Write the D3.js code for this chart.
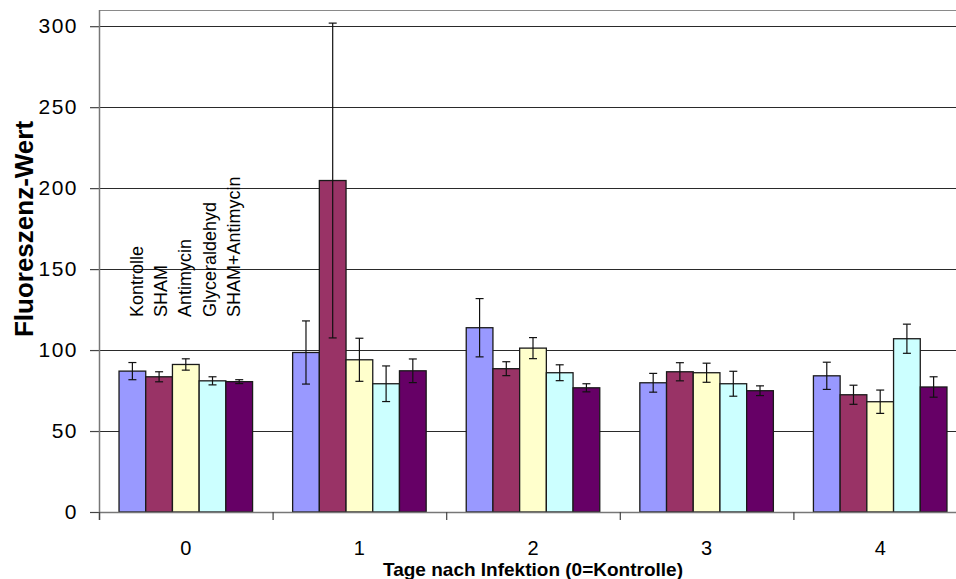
<!DOCTYPE html>
<html>
<head>
<meta charset="utf-8">
<script src="https://cdn.jsdelivr.net/npm/d3@7"></script>
<style>
  html, body { margin: 0; padding: 0; background: #fff; }
  svg { display: block; }
  text { font-family: "Liberation Sans", Arial, sans-serif; }
</style>
</head>
<body>
<svg id="chart" width="956" height="579"></svg>
<script>
const categories = ["0", "1", "2", "3", "4"];
const seriesNames = ["Kontrolle", "SHAM", "Antimycin", "Glyceraldehyd", "SHAM+Antimycin"];
const seriesColors = ["#9999FF", "#993366", "#FFFFCC", "#CCFFFF", "#660066"];
const kontrolle   = [87, 98.5, 113.8, 79.8, 84.1];
const sham        = [83.5, 204.7, 88.5, 86.6, 72.4];
const antimycin   = [91.1, 94, 101.2, 86, 68.1];
const glyceral    = [81, 79.2, 86, 79.2, 107];
const shamAnti    = [80.5, 87.2, 76.7, 74.9, 77.2];
const errKontrolle = [5.3, 19.5, 18, 5.8, 8.4];
const errSham      = [3.1, 97.2, 4.3, 5.6, 5.9];
const errAntimycin = [3.5, 13.3, 6.5, 5.9, 7.2];
const errGlyceral  = [2.5, 11, 4.9, 7.7, 9];
const errShamAnti  = [1.2, 7.3, 2.5, 3, 6.3];
const yTicks = [0, 50, 100, 150, 200, 250, 300];
const yTitle = "Fluoreszenz-Wert";
const xTitle = "Tage nach Infektion (0=Kontrolle)";

const seriesValues = [kontrolle, sham, antimycin, glyceral, shamAnti];
const seriesErrors = [errKontrolle, errSham, errAntimycin, errGlyceral, errShamAnti];

const svg = d3.select("#chart");
const mLeft = 99, mRight = 967, mTop = 10, mBottom = 512;

const x0 = d3.scaleBand().domain(categories).range([mLeft, mRight]).paddingInner(0).paddingOuter(0);
const x1 = d3.scaleBand().domain(d3.range(seriesNames.length))
  .range([0, x0.bandwidth()]).paddingInner(0).paddingOuter(0.75);
const y = d3.scaleLinear().domain([0, 310]).range([mBottom, mTop]);

// top border of plot area
svg.append("line").attr("x1", mLeft).attr("x2", mRight).attr("y1", mTop + 0.5).attr("y2", mTop + 0.5)
  .attr("stroke", "#8a8a8a").attr("stroke-width", 1.2);

// gridlines
svg.append("g").selectAll("line").data(yTicks.filter(d => d > 0)).join("line")
  .attr("x1", mLeft).attr("x2", mRight)
  .attr("y1", d => Math.round(y(d)) + 0.5).attr("y2", d => Math.round(y(d)) + 0.5)
  .attr("stroke", "#2a2a2a").attr("stroke-width", 1.2);

// bars
const groups = svg.append("g").selectAll("g").data(categories).join("g")
  .attr("transform", d => `translate(${x0(d)},0)`);

groups.each(function(cat, ci) {
  const g = d3.select(this);
  seriesNames.forEach((s, si) => {
    const v = seriesValues[si][ci];
    g.append("rect")
      .attr("x", x1(si)).attr("width", x1.bandwidth())
      .attr("y", y(v)).attr("height", y(0) - y(v))
      .attr("fill", seriesColors[si]).attr("stroke", "#1a1a1a").attr("stroke-width", 1.3);
  });
  seriesNames.forEach((s, si) => {
    const v = seriesValues[si][ci], e = seriesErrors[si][ci];
    const cx = x1(si) + x1.bandwidth() / 2;
    const eg = g.append("g").attr("stroke", "#111").attr("stroke-width", 1.2);
    eg.append("line").attr("x1", cx).attr("x2", cx).attr("y1", y(v + e)).attr("y2", y(v - e));
    eg.append("line").attr("x1", cx - 4).attr("x2", cx + 4).attr("y1", y(v + e)).attr("y2", y(v + e));
    eg.append("line").attr("x1", cx - 4).attr("x2", cx + 4).attr("y1", y(v - e)).attr("y2", y(v - e));
  });
});

// y axis
const yAxis = d3.axisLeft(y).tickValues(yTicks).tickSize(9).tickPadding(12);
const ya = svg.append("g").attr("transform", `translate(${mLeft},0)`).call(yAxis);
ya.select(".domain").remove();
ya.selectAll(".tick line").attr("stroke", "#444").attr("stroke-width", 1.2);
ya.selectAll(".tick text").attr("font-size", 21).attr("letter-spacing", 1.5).attr("fill", "#000")
  .attr("font-family", "'Liberation Sans', Arial, sans-serif");
svg.append("line").attr("x1", mLeft + 0.5).attr("x2", mLeft + 0.5).attr("y1", mTop).attr("y2", mBottom + 8)
  .attr("stroke", "#777").attr("stroke-width", 1.5);

// x axis
svg.append("line").attr("x1", mLeft).attr("x2", mRight).attr("y1", mBottom + 0.5).attr("y2", mBottom + 0.5)
  .attr("stroke", "#777").attr("stroke-width", 1.5);
const xAxis = d3.axisBottom(x0).tickSize(0).tickPadding(29);
const xa = svg.append("g").attr("transform", `translate(0,${mBottom})`).call(xAxis);
xa.select(".domain").remove();
xa.selectAll(".tick text").attr("font-size", 20).attr("fill", "#000")
  .attr("font-family", "'Liberation Sans', Arial, sans-serif");
svg.append("g").selectAll("line").data(categories.concat(["end"])).join("line")
  .attr("x1", (d, i) => mLeft + i * x0.bandwidth() + 0.5)
  .attr("x2", (d, i) => mLeft + i * x0.bandwidth() + 0.5)
  .attr("y1", mBottom).attr("y2", mBottom + 8)
  .attr("stroke", "#444").attr("stroke-width", 1.2);

// axis titles
svg.append("text").attr("transform", `translate(33,${(115 + 343) / 2}) rotate(-90)`)
  .attr("text-anchor", "middle").attr("font-size", 26).attr("font-weight", "bold").text(yTitle);
svg.append("text").attr("x", (mLeft + mRight) / 2).attr("y", 576)
  .attr("text-anchor", "middle").attr("font-size", 19).attr("font-weight", "bold").text(xTitle);

// series labels (rotated text annotation)
svg.append("g").selectAll("text").data(seriesNames).join("text")
  .attr("transform", (d, i) => `translate(${143 + i * 24.2},317) rotate(-90)`)
  .attr("font-size", 18).attr("fill", "#000").text(d => d);
</script>
</body>
</html>
